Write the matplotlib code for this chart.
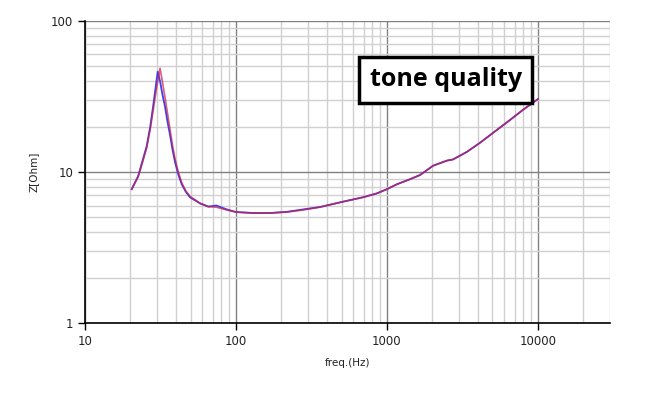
import numpy as np
import matplotlib.pyplot as plt
from matplotlib.ticker import LogLocator, NullFormatter, FixedLocator

freq_red = [20.4, 22.5, 24.0, 25.6, 27.0, 28.3, 29.8, 31.4, 32.5, 33.9, 35.2, 36.6,
            38.0, 39.5, 41.5, 43.7, 46.5, 49.6, 57.8, 65.6,
            74.0, 87, 100, 130, 168, 218, 278, 360, 512, 693, 859, 1000, 1165,
            1419, 1655, 1842, 2018, 2497, 2735, 3388, 4130, 5350, 6530, 7960, 10000]
z_red = [7.7, 9.3, 11.5, 14.4, 19.0, 25.7, 36.0, 48.6, 40.0, 31.0, 24.5, 19.0,
         15.0, 12.2, 10.0, 8.5, 7.5, 6.9, 6.2, 5.9,
         5.85, 5.6, 5.43, 5.35, 5.35, 5.43, 5.6, 5.86, 6.36, 6.8, 7.22, 7.7, 8.3,
         8.95, 9.55, 10.3, 11.0, 11.9, 12.1, 13.6, 15.6, 19.0, 22.1, 25.8, 30.4]

freq_blue = [20.4, 22.5, 24.0, 25.6, 27.0, 28.3, 30.3, 31.4, 32.5, 33.9, 35.2, 36.6,
             38.0, 39.5, 41.5, 43.7, 46.5, 49.6, 57.8, 65.6,
             74.0, 87, 100, 130, 168, 218, 278, 360, 512, 693, 859, 1000, 1165,
             1419, 1655, 1842, 2018, 2497, 2735, 3388, 4130, 5350, 6530, 7960, 10000]
z_blue = [7.7, 9.4, 11.8, 14.8, 19.8, 27.5, 46.2, 40.0, 33.0, 27.0, 21.5, 17.5,
          14.0, 11.6, 9.6, 8.3, 7.4, 6.8, 6.2, 5.9,
          6.0, 5.65, 5.43, 5.35, 5.35, 5.45, 5.65, 5.86, 6.36, 6.8, 7.22, 7.7, 8.3,
          8.95, 9.55, 10.3, 11.0, 11.9, 12.1, 13.6, 15.6, 19.0, 22.1, 25.8, 30.4]

fig = plt.figure(figsize=(6.58, 3.96), dpi=100)
ax = fig.add_axes([0.1292, 0.1843, 0.7978, 0.7627])

ax.set_xscale('log')
ax.set_yscale('log')
ax.set_xlim(10, 30000)
ax.set_ylim(1, 100)

# grid: minor light, major darker
ax.xaxis.set_minor_locator(LogLocator(base=10, subs=np.arange(2, 10)))
ax.yaxis.set_minor_locator(LogLocator(base=10, subs=np.arange(2, 10)))
ax.xaxis.set_minor_formatter(NullFormatter())
ax.yaxis.set_minor_formatter(NullFormatter())
ax.grid(which='minor', color='#d0d0d0', linewidth=1.0)
ax.grid(which='major', color='#808080', linewidth=1.0)
ax.set_axisbelow(True)

ax.xaxis.set_major_locator(FixedLocator([10, 100, 1000, 10000]))
ax.yaxis.set_major_locator(FixedLocator([1, 10, 100]))
ax.set_xticklabels(['10', '100', '1000', '10000'])
ax.set_yticklabels(['1', '10', '100'])
ax.tick_params(which='major', length=5, width=1, color='black', labelsize=8.5,
               labelcolor='#222222')
ax.tick_params(which='minor', length=0)

for side in ['top', 'right']:
    ax.spines[side].set_visible(False)
for side in ['left', 'bottom']:
    ax.spines[side].set_color('black')
    ax.spines[side].set_linewidth(1.2)

ax.plot(freq_blue, z_blue, color='#4040f0', linewidth=1.3)
ax.plot(freq_red, z_red, color='#c8204a', linewidth=1.2, alpha=0.72)

ax.set_xlabel('freq.(Hz)', fontsize=7.5, color='#222222', labelpad=7)
ax.set_ylabel('Z[Ohm]', fontsize=7.5, color='#222222', labelpad=9)

ax.text(0.542, 0.805, 'tone quality', transform=ax.transAxes, fontsize=18,
        fontweight='bold', family='Open Sans', ha='left', va='center',
        bbox=dict(boxstyle='square,pad=0.42', facecolor='white',
                  edgecolor='black', linewidth=2.5))

fig.savefig('out.png', dpi=100)
